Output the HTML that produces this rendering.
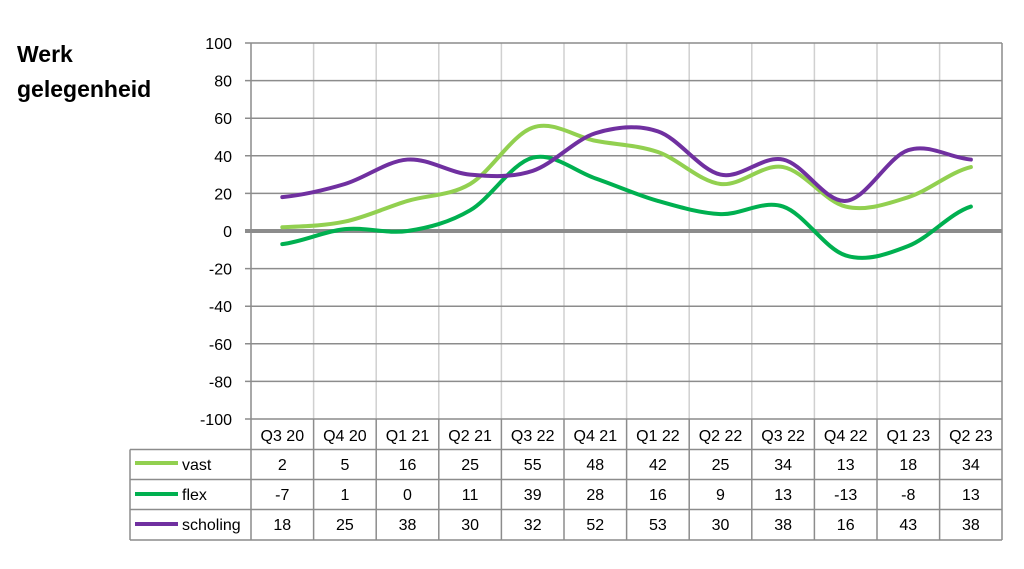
<!DOCTYPE html>
<html><head><meta charset="utf-8"><style>
body{margin:0;background:#fff;}
svg{display:block;font-family:"Liberation Sans",Arial,sans-serif;}
</style></head><body>
<svg width="1024" height="569" viewBox="0 0 1024 569">
<text x="17" y="62" font-size="23" font-weight="bold" fill="#000">Werk</text>
<text x="17" y="97" font-size="23" font-weight="bold" fill="#000">gelegenheid</text>
<g stroke="#d0d0d0" stroke-width="1.5">
<line x1="313.6" y1="43" x2="313.6" y2="419"/><line x1="376.2" y1="43" x2="376.2" y2="419"/>
<line x1="438.8" y1="43" x2="438.8" y2="419"/><line x1="501.4" y1="43" x2="501.4" y2="419"/>
<line x1="564" y1="43" x2="564" y2="419"/><line x1="626.6" y1="43" x2="626.6" y2="419"/>
<line x1="689.2" y1="43" x2="689.2" y2="419"/><line x1="751.8" y1="43" x2="751.8" y2="419"/>
<line x1="814.4" y1="43" x2="814.4" y2="419"/><line x1="877" y1="43" x2="877" y2="419"/>
<line x1="939.6" y1="43" x2="939.6" y2="419"/>
</g>
<g stroke="#8c8c8c" stroke-width="1.5">
<line x1="245" y1="43" x2="1002" y2="43"/><line x1="245" y1="80.6" x2="1002" y2="80.6"/>
<line x1="245" y1="118.2" x2="1002" y2="118.2"/><line x1="245" y1="155.8" x2="1002" y2="155.8"/>
<line x1="245" y1="193.4" x2="1002" y2="193.4"/>
<line x1="245" y1="268.6" x2="1002" y2="268.6"/><line x1="245" y1="306.2" x2="1002" y2="306.2"/>
<line x1="245" y1="343.8" x2="1002" y2="343.8"/><line x1="245" y1="381.4" x2="1002" y2="381.4"/>
<line x1="245" y1="419" x2="1002" y2="419"/>
<line x1="251" y1="43" x2="251" y2="540"/><line x1="1002" y1="43" x2="1002" y2="540"/>
</g>
<line x1="245" y1="231" x2="1002" y2="231" stroke="#8c8c8c" stroke-width="4"/>
<g font-size="16" fill="#000" text-anchor="end">
<text x="232" y="49">100</text><text x="232" y="86.6">80</text><text x="232" y="124.2">60</text>
<text x="232" y="161.8">40</text><text x="232" y="199.4">20</text><text x="232" y="237">0</text>
<text x="232" y="274.6">-20</text><text x="232" y="312.2">-40</text><text x="232" y="349.8">-60</text>
<text x="232" y="387.4">-80</text><text x="232" y="425">-100</text>
</g>
<g transform="translate(0,231) scale(1,-1.88)" fill="none" stroke-width="4" stroke-linecap="round">
<path vector-effect="non-scaling-stroke" stroke="#92d050" d="M282.3 2 C303.2 2.5 324.0 2.67 344.9 5 C365.8 7.33 386.6 12.67 407.5 16 C428.4 19.33 449.2 18.5 470.1 25 C491.0 31.5 511.8 51.17 532.7 55 C553.6 58.83 574.4 50.17 595.3 48 C616.2 45.83 637.0 45.83 657.9 42 C678.8 38.17 699.6 26.33 720.5 25 C741.4 23.67 762.2 36 783.1 34 C804.0 32 824.8 15.67 845.7 13 C866.6 10.33 887.4 14.5 908.3 18 C929.2 21.5 950.0 31.33 970.9 34"/>
<path vector-effect="non-scaling-stroke" stroke="#00b050" d="M282.3 -7 C303.2 -5.67 324.0 -0.17 344.9 1 C365.8 2.17 386.6 -1.67 407.5 0 C428.4 1.67 449.2 4.5 470.1 11 C491.0 17.5 511.8 36.17 532.7 39 C553.6 41.83 574.4 31.83 595.3 28 C616.2 24.17 637.0 19.17 657.9 16 C678.8 12.83 699.6 9.5 720.5 9 C741.4 8.5 762.2 16.67 783.1 13 C804.0 9.33 824.8 -9.5 845.7 -13 C866.6 -16.5 887.4 -12.33 908.3 -8 C929.2 -3.67 950.0 9.5 970.9 13"/>
<path vector-effect="non-scaling-stroke" stroke="#7030a0" d="M282.3 18 C303.2 19.17 324.0 21.67 344.9 25 C365.8 28.33 386.6 37.17 407.5 38 C428.4 38.83 449.2 31 470.1 30 C491.0 29 511.8 28.33 532.7 32 C553.6 35.67 574.4 48.5 595.3 52 C616.2 55.5 637.0 56.67 657.9 53 C678.8 49.33 699.6 32.5 720.5 30 C741.4 27.5 762.2 40.33 783.1 38 C804.0 35.67 824.8 15.17 845.7 16 C866.6 16.83 887.4 39.33 908.3 43 C929.2 46.67 950.0 38.83 970.9 38"/>
</g>
<g stroke="#8c8c8c" stroke-width="1.5">
<line x1="130" y1="449.5" x2="1002" y2="449.5"/><line x1="130" y1="479.5" x2="1002" y2="479.5"/>
<line x1="130" y1="509.5" x2="1002" y2="509.5"/><line x1="130" y1="540" x2="1002" y2="540"/>
<line x1="130" y1="449.5" x2="130" y2="540"/>
<line x1="313.6" y1="419" x2="313.6" y2="540"/><line x1="376.2" y1="419" x2="376.2" y2="540"/>
<line x1="438.8" y1="419" x2="438.8" y2="540"/><line x1="501.4" y1="419" x2="501.4" y2="540"/>
<line x1="564" y1="419" x2="564" y2="540"/><line x1="626.6" y1="419" x2="626.6" y2="540"/>
<line x1="689.2" y1="419" x2="689.2" y2="540"/><line x1="751.8" y1="419" x2="751.8" y2="540"/>
<line x1="814.4" y1="419" x2="814.4" y2="540"/><line x1="877" y1="419" x2="877" y2="540"/>
<line x1="939.6" y1="419" x2="939.6" y2="540"/>
</g>
<g stroke-width="4">
<line x1="135" y1="463" x2="178" y2="463" stroke="#92d050"/>
<line x1="135" y1="494" x2="178" y2="494" stroke="#00b050"/>
<line x1="135" y1="524" x2="178" y2="524" stroke="#7030a0"/>
</g>
<g font-size="16" fill="#000">
<text x="182" y="470">vast</text><text x="182" y="500">flex</text><text x="182" y="530">scholing</text>
</g>
<g font-size="16" fill="#000" text-anchor="middle">
<g transform="translate(0,441)"><text x="282.3">Q3 20</text><text x="344.9">Q4 20</text><text x="407.5">Q1 21</text><text x="470.1">Q2 21</text><text x="532.7">Q3 22</text><text x="595.3">Q4 21</text><text x="657.9">Q1 22</text><text x="720.5">Q2 22</text><text x="783.1">Q3 22</text><text x="845.7">Q4 22</text><text x="908.3">Q1 23</text><text x="970.9">Q2 23</text></g>
<g transform="translate(0,470)"><text x="282.3">2</text><text x="344.9">5</text><text x="407.5">16</text><text x="470.1">25</text><text x="532.7">55</text><text x="595.3">48</text><text x="657.9">42</text><text x="720.5">25</text><text x="783.1">34</text><text x="845.7">13</text><text x="908.3">18</text><text x="970.9">34</text></g>
<g transform="translate(0,500)"><text x="282.3">-7</text><text x="344.9">1</text><text x="407.5">0</text><text x="470.1">11</text><text x="532.7">39</text><text x="595.3">28</text><text x="657.9">16</text><text x="720.5">9</text><text x="783.1">13</text><text x="845.7">-13</text><text x="908.3">-8</text><text x="970.9">13</text></g>
<g transform="translate(0,530)"><text x="282.3">18</text><text x="344.9">25</text><text x="407.5">38</text><text x="470.1">30</text><text x="532.7">32</text><text x="595.3">52</text><text x="657.9">53</text><text x="720.5">30</text><text x="783.1">38</text><text x="845.7">16</text><text x="908.3">43</text><text x="970.9">38</text></g>
</g>
</svg>
</body></html>
